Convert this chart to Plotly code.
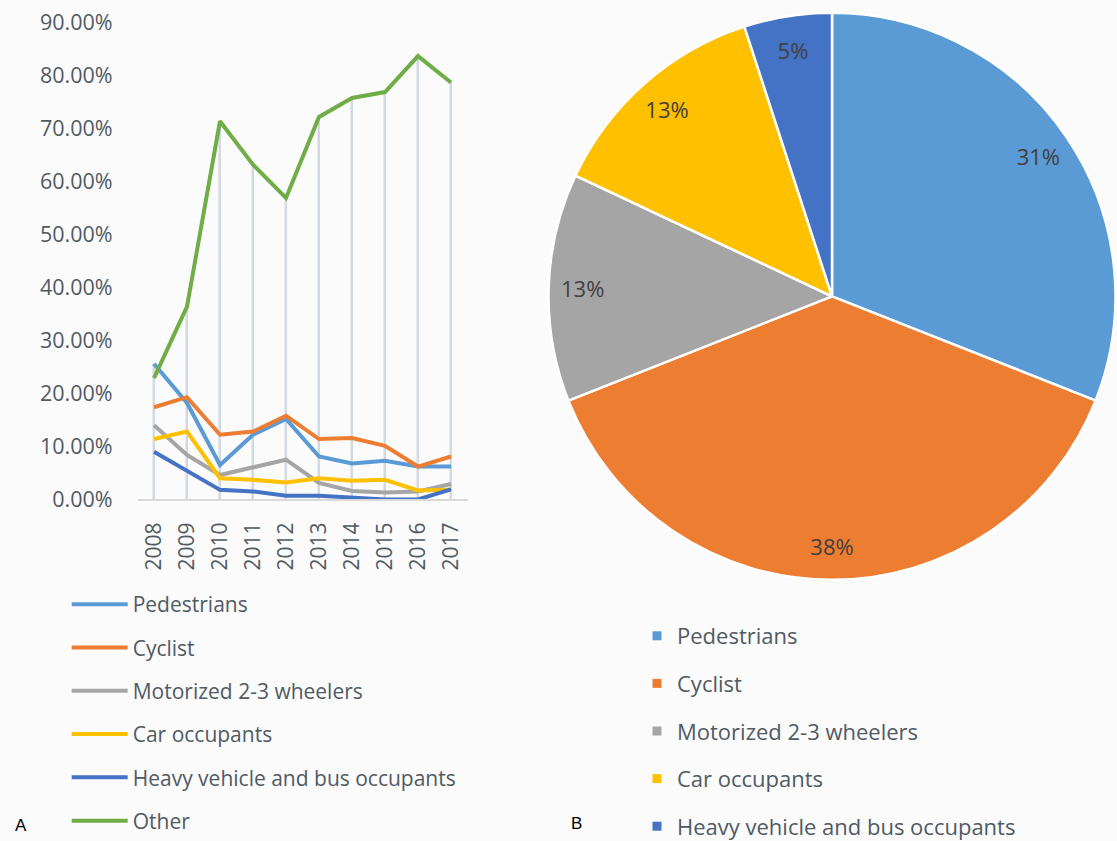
import plotly.graph_objects as go

# ---------------- data ----------------
years = ['2008', '2009', '2010', '2011', '2012', '2013', '2014', '2015', '2016', '2017']
pedestrians = [0.256, 0.182, 0.065, 0.122, 0.152, 0.081, 0.068, 0.073, 0.062, 0.062]
cyclist = [0.174, 0.193, 0.122, 0.128, 0.158, 0.114, 0.116, 0.101, 0.062, 0.081]
motorized = [0.140, 0.084, 0.046, 0.061, 0.075, 0.031, 0.016, 0.013, 0.015, 0.029]
car_occupants = [0.114, 0.128, 0.040, 0.037, 0.032, 0.040, 0.035, 0.037, 0.017, 0.018]
heavy_vehicle = [0.090, 0.054, 0.018, 0.015, 0.007, 0.007, 0.004, 0.000, 0.000, 0.019]
other = [0.229, 0.364, 0.714, 0.632, 0.569, 0.722, 0.758, 0.769, 0.837, 0.787]

line_names = ['Pedestrians', 'Cyclist', 'Motorized 2-3 wheelers', 'Car occupants',
              'Heavy vehicle and bus occupants', 'Other']
line_colors = ['#5B9BD5', '#ED7D31', '#A5A5A5', '#FFC000', '#4472C4', '#70AD47']

pie_labels = ['Pedestrians', 'Cyclist', 'Motorized 2-3 wheelers', 'Car occupants',
              'Heavy vehicle and bus occupants']
pie_values = [31, 38, 13, 13, 5]
pie_colors = ['#5B9BD5', '#ED7D31', '#A5A5A5', '#FFC000', '#4472C4']

W, H = 1117, 841
TEXT = '#505a63'
FONT = 'Open Sans'

fig = go.Figure()

# drop lines (from highest point of each year down to the axis)
all_series = [pedestrians, cyclist, motorized, car_occupants, heavy_vehicle, other]
drop_height = [max(v) for v in zip(*all_series)]
fig.add_trace(go.Bar(x=years, y=drop_height, width=0.06,
                     marker=dict(color='#d3d9e0', line_width=0),
                     showlegend=False, hoverinfo='skip'))

for name, vals, col in zip(line_names, all_series, line_colors):
    fig.add_trace(go.Scatter(x=years, y=vals, mode='lines', name=name,
                             line=dict(color=col, width=4),
                             legend='legend', legendgroup=name))

pie_domain = dict(x=[(832 - 283.5) / W, (832 + 283.5) / W],
                  y=[1 - (296.3 + 283.5) / H, 1 - (296.3 - 283.5) / H])

fig.add_trace(go.Pie(labels=pie_labels, values=pie_values, sort=False,
                     direction='clockwise', rotation=0,
                     marker=dict(colors=pie_colors, line=dict(color='white', width=2.5)),
                     textinfo='none', showlegend=False, domain=pie_domain))
# label ring (transparent) so percentages sit near the rim
fig.add_trace(go.Pie(labels=pie_labels, values=pie_values, sort=False,
                     direction='clockwise', rotation=0, hole=0.76,
                     marker=dict(colors=['rgba(0,0,0,0)'] * 5, line=dict(width=0)),
                     textinfo='percent', textposition='inside',
                     insidetextorientation='horizontal',
                     textfont=dict(size=22, color='#404040', family=FONT),
                     showlegend=False, hoverinfo='skip', domain=pie_domain))

# legend entries for the pie
for lab, col in zip(pie_labels, pie_colors):
    fig.add_trace(go.Scatter(x=[None], y=[None], mode='markers', name=lab,
                             marker=dict(symbol='square', size=9, color=col),
                             legend='legend2', legendgroup='pie_' + lab))

fig.update_layout(
    width=W, height=H,
    margin=dict(l=0, r=0, t=0, b=0, autoexpand=False),
    paper_bgcolor='#fbfbfc', plot_bgcolor='#fbfbfc',
    font=dict(family=FONT, color=TEXT),
    showlegend=True,
    xaxis=dict(domain=[137.5 / W, 467.5 / W], type='category', range=[-0.5, 9.5],
               tickangle=-90, tickfont=dict(size=21, color=TEXT), showgrid=False,
               showline=True, linecolor='#d9d9d9', linewidth=1.5, ticks='',
               ticklabelstandoff=13, zeroline=False, automargin=False),
    yaxis=dict(domain=[1 - 499.4 / H, 1 - 22.7 / H], range=[0, 0.9], dtick=0.1,
               tickformat='.2%', showgrid=False, zeroline=False, ticks='',
               tickfont=dict(size=21.5, color=TEXT), ticklabelstandoff=24,
               automargin=False),
    legend=dict(x=66.7 / W, y=0, xanchor='left', yanchor='bottom',
                traceorder='grouped', tracegroupgap=13, itemwidth=56,
                font=dict(size=21, color=TEXT), bgcolor='rgba(0,0,0,0)'),
    legend2=dict(x=637 / W, y=1 - 615 / H, xanchor='left', yanchor='top',
                 traceorder='grouped', tracegroupgap=16,
                 font=dict(size=22, color=TEXT), bgcolor='rgba(0,0,0,0)'),
    annotations=[
        dict(text='A', x=20.7 / W, y=1 - 825 / H, xref='paper', yref='paper',
             xanchor='center', yanchor='middle', showarrow=False,
             font=dict(size=17, color='black', family='Liberation Sans')),
        dict(text='B', x=576.7 / W, y=1 - 823.3 / H, xref='paper', yref='paper',
             xanchor='center', yanchor='middle', showarrow=False,
             font=dict(size=17, color='black', family='Liberation Sans')),
    ],
)

fig.write_html('out.html', config={'displayModeBar': False},
               post_script="document.body.style.margin='0';")
